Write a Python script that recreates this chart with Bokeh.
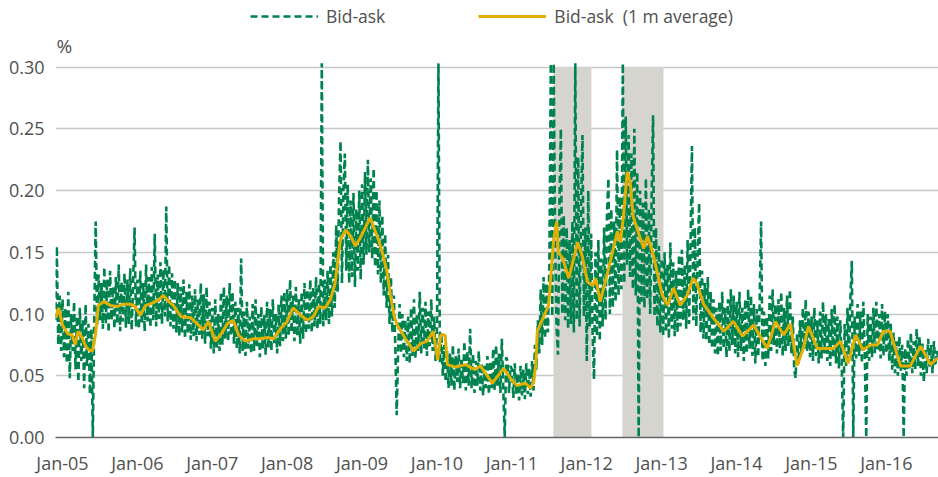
from bokeh.plotting import figure
from bokeh.models import (FixedTicker, Legend, LegendItem, Label, NumeralTickFormatter)
from bokeh.embed import file_html
from bokeh.resources import INLINE

# ---------------- data ----------------
# weekly bid-ask spread (%); first point late Dec 2004
bid_start = 2004.905
bid_2004 = [0.095, 0.155, 0.075, 0.115, 0.070]
bid_2005 = [0.112, 0.065, 0.105, 0.060, 0.118, 0.048, 0.100, 0.070, 0.110, 0.055,
            0.098, 0.045, 0.105, 0.062, 0.095, 0.040, 0.108, 0.058, 0.092, 0.035,
            0.088, 0.000, 0.095, 0.175,
            0.090, 0.132, 0.095, 0.125, 0.088, 0.138, 0.092, 0.128, 0.085, 0.135,
            0.095, 0.122, 0.088, 0.130, 0.092, 0.140, 0.086, 0.126, 0.094, 0.133,
            0.089, 0.128, 0.092, 0.137, 0.087, 0.125, 0.170, 0.090]
bid_2006 = [0.128, 0.088, 0.135, 0.092, 0.125, 0.086, 0.140, 0.094, 0.130, 0.089,
            0.138, 0.095, 0.165, 0.090, 0.132, 0.096, 0.142, 0.092, 0.136, 0.098,
            0.187, 0.094, 0.140, 0.090, 0.133, 0.088, 0.128, 0.085, 0.125, 0.082,
            0.122, 0.085, 0.128, 0.080, 0.118, 0.084, 0.124, 0.079, 0.115, 0.082,
            0.120, 0.078, 0.112, 0.083, 0.125, 0.080, 0.116, 0.076, 0.122, 0.082,
            0.110, 0.072]
bid_2007 = [0.105, 0.068, 0.112, 0.072, 0.100, 0.070, 0.118, 0.075, 0.122, 0.080,
            0.115, 0.078, 0.125, 0.082, 0.118, 0.076, 0.110, 0.072, 0.105, 0.068,
            0.145, 0.070, 0.102, 0.066, 0.110, 0.072, 0.098, 0.068, 0.108, 0.070,
            0.112, 0.074, 0.100, 0.065, 0.106, 0.071, 0.099, 0.067, 0.110, 0.073,
            0.104, 0.070, 0.112, 0.075, 0.100, 0.068, 0.108, 0.074, 0.115, 0.078,
            0.118, 0.080]
bid_2008 = [0.120, 0.082, 0.128, 0.085, 0.115, 0.078, 0.122, 0.082, 0.112, 0.076,
            0.118, 0.080, 0.125, 0.084, 0.120, 0.088, 0.128, 0.085, 0.122, 0.090,
            0.130, 0.088, 0.125, 0.092, 0.303, 0.090, 0.128, 0.095, 0.135, 0.092,
            0.140, 0.098, 0.150, 0.105, 0.172, 0.118, 0.195, 0.240, 0.125, 0.200,
            0.230, 0.135, 0.205, 0.125, 0.192, 0.130, 0.198, 0.122, 0.185, 0.135,
            0.200, 0.128]
bid_2009 = [0.205, 0.140, 0.215, 0.148, 0.225, 0.150, 0.210, 0.145, 0.218, 0.138,
            0.200, 0.132, 0.192, 0.125, 0.180, 0.115, 0.165, 0.105, 0.148, 0.092,
            0.130, 0.085, 0.115, 0.075, 0.018, 0.072, 0.108, 0.068, 0.100, 0.065,
            0.095, 0.062, 0.098, 0.060, 0.105, 0.066, 0.112, 0.064, 0.100, 0.070,
            0.118, 0.068, 0.105, 0.072, 0.110, 0.066, 0.102, 0.074, 0.112, 0.070,
            0.098, 0.062]
bid_2010 = [0.090, 0.303, 0.060, 0.085, 0.050, 0.075, 0.045, 0.070, 0.040, 0.068,
            0.042, 0.075, 0.038, 0.066, 0.045, 0.072, 0.040, 0.064, 0.044, 0.078,
            0.038, 0.070, 0.042, 0.088, 0.040, 0.068, 0.036, 0.062, 0.042, 0.070,
            0.038, 0.060, 0.034, 0.058, 0.040, 0.066, 0.035, 0.062, 0.040, 0.072,
            0.038, 0.075, 0.042, 0.068, 0.036, 0.080, 0.040, 0.000, 0.065, 0.062,
            0.036, 0.058]
bid_2011 = [0.055, 0.032, 0.060, 0.035, 0.052, 0.030, 0.058, 0.034, 0.055, 0.031,
            0.060, 0.035, 0.056, 0.033, 0.062, 0.038, 0.075, 0.055, 0.095, 0.068,
            0.120, 0.075, 0.130, 0.080, 0.125, 0.085, 0.140, 0.303, 0.098, 0.303,
            0.160, 0.090, 0.067, 0.190, 0.250, 0.100, 0.180, 0.095, 0.170, 0.088,
            0.160, 0.092, 0.175, 0.085, 0.303, 0.095, 0.227, 0.090, 0.185, 0.245,
            0.098, 0.170]
bid_2012 = [0.062, 0.200, 0.090, 0.165, 0.085, 0.047, 0.150, 0.082, 0.160, 0.078,
            0.145, 0.090, 0.170, 0.095, 0.180, 0.210, 0.100, 0.185, 0.105, 0.175,
            0.110, 0.233, 0.115, 0.195, 0.120, 0.303, 0.125, 0.260, 0.140, 0.245,
            0.130, 0.230, 0.120, 0.250, 0.115, 0.215, 0.000, 0.200, 0.110, 0.190,
            0.105, 0.210, 0.112, 0.185, 0.100, 0.195, 0.261, 0.098, 0.170, 0.090,
            0.155, 0.085]
bid_2013 = [0.145, 0.082, 0.150, 0.085, 0.140, 0.080, 0.158, 0.088, 0.142, 0.082,
            0.135, 0.085, 0.148, 0.090, 0.152, 0.095, 0.140, 0.088, 0.160, 0.092,
            0.155, 0.236, 0.095, 0.170, 0.090, 0.150, 0.190, 0.085, 0.135, 0.080,
            0.125, 0.078, 0.130, 0.075, 0.118, 0.072, 0.112, 0.068, 0.105, 0.066,
            0.110, 0.070, 0.118, 0.072, 0.105, 0.065, 0.112, 0.070, 0.120, 0.075,
            0.115, 0.068]
bid_2014 = [0.110, 0.065, 0.118, 0.070, 0.105, 0.062, 0.112, 0.068, 0.120, 0.072,
            0.115, 0.066, 0.108, 0.060, 0.104, 0.065, 0.110, 0.175, 0.062, 0.102,
            0.058, 0.098, 0.064, 0.115, 0.070, 0.120, 0.075, 0.108, 0.068, 0.112,
            0.072, 0.118, 0.066, 0.105, 0.070, 0.115, 0.074, 0.120, 0.068, 0.098,
            0.055, 0.048, 0.085, 0.060, 0.095, 0.068, 0.105, 0.072, 0.112, 0.070,
            0.102, 0.065]
bid_2015 = [0.098, 0.062, 0.105, 0.066, 0.095, 0.060, 0.102, 0.064, 0.110, 0.068,
            0.100, 0.062, 0.096, 0.058, 0.104, 0.065, 0.108, 0.060, 0.098, 0.056,
            0.095, 0.060, 0.000, 0.092, 0.058, 0.105, 0.062, 0.112, 0.143, 0.000,
            0.098, 0.064, 0.108, 0.066, 0.102, 0.060, 0.110, 0.068, 0.000, 0.100,
            0.062, 0.098, 0.065, 0.105, 0.068, 0.110, 0.070, 0.100, 0.064, 0.108,
            0.066, 0.102]
bid_2016 = [0.068, 0.100, 0.062, 0.092, 0.055, 0.085, 0.052, 0.078, 0.050, 0.082,
            0.054, 0.075, 0.000, 0.072, 0.050, 0.080, 0.056, 0.085, 0.052, 0.078,
            0.055, 0.088, 0.058, 0.082, 0.050, 0.076, 0.045, 0.072, 0.052, 0.080,
            0.056, 0.075, 0.052, 0.078, 0.058, 0.070, 0.065]

# 1-month average, turning points (decimal year, %)
avg_dates = [2004.91, 2004.95, 2005.00, 2005.07, 2005.13, 2005.17, 2005.21, 2005.27, 2005.31,
             2005.35, 2005.40, 2005.44, 2005.48, 2005.55, 2005.64, 2005.73, 2005.81, 2005.91,
             2005.97, 2006.04, 2006.11, 2006.17, 2006.27, 2006.35, 2006.42, 2006.48, 2006.58,
             2006.71, 2006.80, 2006.88, 2006.95, 2007.04, 2007.11, 2007.20, 2007.28, 2007.35,
             2007.44, 2007.55, 2007.64, 2007.74, 2007.82, 2007.91, 2008.00, 2008.08, 2008.18,
             2008.27, 2008.35, 2008.42, 2008.51, 2008.58, 2008.64, 2008.71, 2008.78, 2008.85,
             2008.91, 2008.98, 2009.06, 2009.11, 2009.17, 2009.22, 2009.27, 2009.33, 2009.38,
             2009.43, 2009.47, 2009.58, 2009.69, 2009.78, 2009.87, 2009.95, 2010.01, 2010.05,
             2010.11, 2010.14, 2010.25, 2010.38, 2010.51, 2010.58, 2010.74, 2010.89, 2010.98,
             2011.07, 2011.18, 2011.25, 2011.29, 2011.32, 2011.34, 2011.42, 2011.49, 2011.56,
             2011.60, 2011.62, 2011.68, 2011.76, 2011.88, 2011.94, 2012.01, 2012.08, 2012.12,
             2012.18, 2012.28, 2012.41, 2012.45, 2012.49, 2012.54, 2012.58, 2012.62, 2012.69,
             2012.76, 2012.81, 2012.88, 2012.94, 2013.01, 2013.08, 2013.16, 2013.25, 2013.34,
             2013.42, 2013.47, 2013.56, 2013.69, 2013.83, 2013.96, 2014.08, 2014.23, 2014.41,
             2014.52, 2014.63, 2014.72, 2014.81, 2014.89, 2014.96, 2015.08, 2015.29, 2015.39,
             2015.49, 2015.59, 2015.69, 2015.79, 2015.88, 2015.96, 2016.05, 2016.12, 2016.19,
             2016.32, 2016.46, 2016.59, 2016.68]
avg_values = [0.097, 0.105, 0.091, 0.084, 0.083, 0.075, 0.086, 0.080, 0.074,
              0.071, 0.070, 0.083, 0.107, 0.110, 0.107, 0.106, 0.108, 0.108,
              0.106, 0.099, 0.107, 0.108, 0.111, 0.115, 0.110, 0.107, 0.098,
              0.097, 0.092, 0.087, 0.094, 0.078, 0.083, 0.092, 0.095, 0.083,
              0.078, 0.080, 0.080, 0.081, 0.080, 0.088, 0.094, 0.105, 0.099,
              0.095, 0.098, 0.106, 0.105, 0.112, 0.125, 0.160, 0.168, 0.163,
              0.155, 0.162, 0.172, 0.178, 0.168, 0.160, 0.150, 0.135, 0.115,
              0.098, 0.091, 0.080, 0.070, 0.076, 0.078, 0.086, 0.063, 0.083,
              0.083, 0.059, 0.057, 0.059, 0.055, 0.058, 0.044, 0.056, 0.048,
              0.042, 0.044, 0.040, 0.045, 0.059, 0.086, 0.097, 0.107, 0.161,
              0.175, 0.150, 0.145, 0.129, 0.158, 0.147, 0.126, 0.123, 0.129,
              0.110, 0.134, 0.167, 0.158, 0.179, 0.215, 0.207, 0.179, 0.166,
              0.153, 0.163, 0.150, 0.134, 0.115, 0.107, 0.121, 0.107, 0.115,
              0.129, 0.125, 0.108, 0.097, 0.086, 0.094, 0.082, 0.091, 0.072,
              0.094, 0.083, 0.092, 0.058, 0.072, 0.090, 0.072, 0.072, 0.078,
              0.060, 0.083, 0.071, 0.075, 0.075, 0.086, 0.086, 0.072, 0.058,
              0.058, 0.074, 0.059, 0.064]

shade_start = [2011.555, 2012.477]
shade_end = [2012.063, 2013.025]
shade_top = 0.30

year_ticks = [2005, 2006, 2007, 2008, 2009, 2010, 2011, 2012, 2013, 2014, 2015, 2016]
year_labels = ["Jan-05", "Jan-06", "Jan-07", "Jan-08", "Jan-09", "Jan-10",
               "Jan-11", "Jan-12", "Jan-13", "Jan-14", "Jan-15", "Jan-16"]
y_ticks = [0.0, 0.05, 0.10, 0.15, 0.20, 0.25, 0.30]

# ---------------- build ----------------
bid_values = (bid_2004 + bid_2005 + bid_2006 + bid_2007 + bid_2008 + bid_2009 + bid_2010
              + bid_2011 + bid_2012 + bid_2013 + bid_2014 + bid_2015 + bid_2016)
bid_dates = [bid_start + i / 52.0 for i in range(len(bid_values))]

GREEN = "#00824f"
YELLOW = "#e2ae00"
SHADE = "#d5d4cf"
TXT = "#505050"
FONT = "Open Sans"

# frame spans the whole canvas height above the x axis; legend and "%" sit inside it
p = figure(width=938, height=477, x_range=(2004.907, 2016.697), y_range=(0, 0.3539),
           output_backend="svg", toolbar_location=None,
           min_border_left=55, min_border_right=0, min_border_top=0, min_border_bottom=37)
p.outline_line_color = None
p.background_fill_color = "white"
p.border_fill_color = "white"

p.quad(left=shade_start, right=shade_end, bottom=[0, 0], top=[shade_top, shade_top],
       fill_color=SHADE, line_color=None)

r1 = p.line(bid_dates, bid_values, line_color=GREEN, line_width=2.6, line_dash="7 4")
r2 = p.line(avg_dates, avg_values, line_color=YELLOW, line_width=3)

# axes
p.xaxis.ticker = FixedTicker(ticks=year_ticks)
p.xaxis.major_label_overrides = {t: l for t, l in zip(year_ticks, year_labels)}
p.xaxis.major_tick_line_color = None
p.xaxis.major_tick_out = 0
p.xaxis.major_tick_in = 0
p.xaxis.minor_tick_line_color = None
p.xaxis.minor_tick_out = 0
p.xaxis.axis_line_color = "#666666"
p.xaxis.axis_line_width = 1.5
p.xaxis.major_label_standoff = 13
p.xaxis.major_label_text_font = FONT
p.xaxis.major_label_text_font_size = "18px"
p.xaxis.major_label_text_color = TXT

p.yaxis.ticker = FixedTicker(ticks=y_ticks)
p.yaxis.formatter = NumeralTickFormatter(format="0.00")
p.yaxis.major_tick_line_color = None
p.yaxis.major_tick_out = 0
p.yaxis.major_tick_in = 0
p.yaxis.minor_tick_line_color = None
p.yaxis.minor_tick_out = 0
p.yaxis.axis_line_color = None
p.yaxis.major_label_standoff = 11
p.yaxis.major_label_text_font = FONT
p.yaxis.major_label_text_font_size = "18px"
p.yaxis.major_label_text_color = TXT

p.xgrid.grid_line_color = None
p.ygrid.ticker = FixedTicker(ticks=y_ticks)
p.ygrid.grid_line_color = "#c8c8c8"
p.ygrid.grid_line_width = 1.5

p.add_layout(Label(x=2004.907, y=0.30, text="%", text_baseline="bottom",
                   x_offset=1, y_offset=8, text_font=FONT, text_font_size="19px",
                   text_color=TXT))

legend = Legend(items=[LegendItem(label="Bid-ask", renderers=[r1]),
                       LegendItem(label="Bid-ask  (1 m average)", renderers=[r2])],
                orientation="horizontal", location=(195, 409),
                glyph_width=68, glyph_height=20, label_standoff=8, spacing=93,
                padding=0, margin=0, background_fill_alpha=0, border_line_alpha=0,
                label_text_font=FONT, label_text_font_size="17.5px", label_text_color=TXT)
p.add_layout(legend, "center")

open("out.html", "w").write(file_html(p, INLINE))
